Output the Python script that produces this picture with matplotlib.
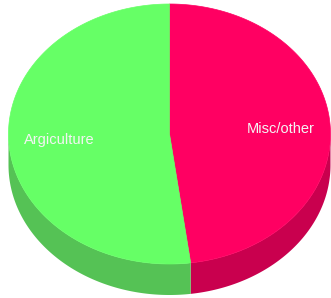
"""
Two-slice 3D-style pie chart drawn with flat polygons.
"""

import numpy as np
import matplotlib
matplotlib.use("Agg")
import matplotlib.pyplot as plt
from matplotlib.patches import Polygon

LABELS = ["Misc/other", "Argiculture"]
VALUES = [47.9, 52.1]
TOP_COLORS = ["#ff0062", "#66ff66"]
SIDE_COLORS = ["#c9004e", "#55c255"]
LABEL_POS = [(281, 129), (59.5, 140)]

CX, CY = 169.5, 134
RX, RY = 161, 130
DEPTH = 31


def arc(a0, a1, n=200):
    t = np.radians(np.linspace(a0, a1, n))
    return np.column_stack([CX + RX * np.sin(t), CY - RY * np.cos(t)])


def main() -> None:
    plt.rcParams["font.family"] = ["Liberation Sans", "DejaVu Sans"]
    fig = plt.figure(figsize=(3.31, 2.98), dpi=100)
    ax = fig.add_axes([0, 0, 1, 1])
    ax.set_xlim(0, 331)
    ax.set_ylim(298, 0)
    ax.axis("off")

    angles = np.concatenate([[0], np.cumsum(VALUES) / sum(VALUES) * 360])
    # side walls (front half only)
    for i in range(len(VALUES)):
        a0, a1 = max(angles[i], 90), min(angles[i + 1], 270)
        if a1 <= a0:
            continue
        top = arc(a0, a1)
        bottom = top[::-1] + [0, DEPTH]
        ax.add_patch(Polygon(np.vstack([top, bottom]), closed=True,
                             facecolor=SIDE_COLORS[i], edgecolor="none"))
    # top faces
    for i in range(len(VALUES)):
        pts = np.vstack([[CX, CY], arc(angles[i], angles[i + 1])])
        ax.add_patch(Polygon(pts, closed=True, facecolor=TOP_COLORS[i],
                             edgecolor=TOP_COLORS[i], linewidth=0.5))
    for label, (x, y) in zip(LABELS, LABEL_POS):
        ax.text(x, y, label, color="#f4f4f4", fontsize=10.5,
                ha="center", va="center")
    fig.savefig("out.png", dpi=100)


if __name__ == "__main__":
    main()
